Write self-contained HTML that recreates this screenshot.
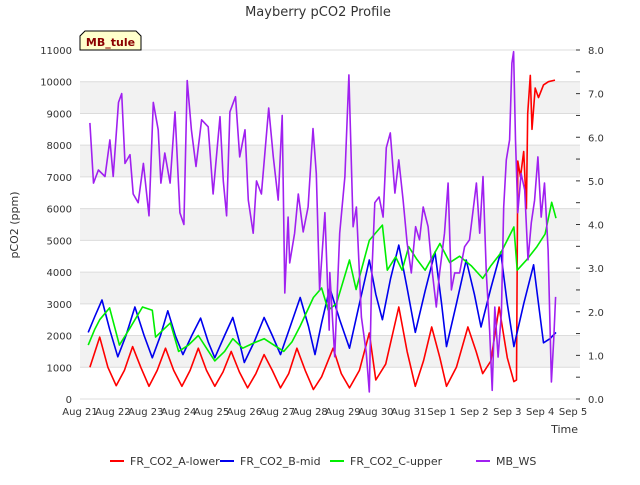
<!DOCTYPE html>
<html><head><meta charset="utf-8"><style>
body{margin:0;background:#fff;}
svg text{font-family:"DejaVu Sans","Liberation Sans",sans-serif;}
</style></head><body>
<svg id="chart" width="640" height="480" xmlns="http://www.w3.org/2000/svg">
<g id="bands"></g><g id="grid"></g><g id="axes"></g><g id="series"></g>
<text x="318" y="16" text-anchor="middle" font-size="13" fill="#333">Mayberry pCO2 Profile</text>
<text transform="translate(18,225) rotate(-90)" text-anchor="middle" font-size="11" fill="#333">pCO2 (ppm)</text>
<text x="578" y="433" text-anchor="end" font-size="11" fill="#333">Time</text>
<g>
<path d="M80,50 L80,36 L85,31 L136,31 L141,36 L141,50 Z" fill="#ffffcc" stroke="#000" stroke-width="1"/>
<text x="110.5" y="46" text-anchor="middle" font-size="11" font-weight="bold" fill="#8b0000">MB_tule</text>
</g>
<g id="legend"></g>
</svg>
<script>
const xTickLabels=["Aug 21","Aug 22","Aug 23","Aug 24","Aug 25","Aug 26","Aug 27","Aug 28","Aug 29","Aug 30","Aug 31","Sep 1","Sep 2","Sep 3","Sep 4","Sep 5"];
const yTickLabels=[0,1000,2000,3000,4000,5000,6000,7000,8000,9000,10000,11000];
const y2TickLabels=["0.0","1.0","2.0","3.0","4.0","5.0","6.0","7.0","8.0"];
const seriesNames=["FR_CO2_A-lower","FR_CO2_B-mid","FR_CO2_C-upper","MB_WS"];
const redT=[0.3,0.6,0.85,1.1,1.35,1.6,1.85,2.1,2.35,2.6,2.85,3.1,3.35,3.6,3.85,4.1,4.35,4.6,4.85,5.1,5.35,5.6,5.85,6.1,6.35,6.6,6.85,7.1,7.35,7.7,7.95,8.2,8.5,8.8,9.0,9.3,9.7,9.95,10.2,10.45,10.7,10.95,11.15,11.45,11.8,12.05,12.25,12.5,12.75,13.0,13.2,13.28,13.32,13.4,13.5,13.58,13.62,13.7,13.75,13.85,13.95,14.1,14.25,14.45];
const redV=[1000,1950,1000,420,900,1650,1000,400,900,1600,900,400,900,1600,900,400,850,1500,850,350,800,1400,900,350,800,1600,900,300,700,1600,800,350,900,2080,600,1100,2900,1500,400,1200,2270,1300,400,1000,2270,1500,800,1200,2900,1300,550,600,7500,7000,7800,6000,9000,10200,8500,9800,9500,9900,10000,10050];
const blueT=[0.25,0.45,0.67,0.9,1.15,1.4,1.67,1.95,2.2,2.45,2.67,2.9,3.13,3.4,3.67,3.9,4.1,4.4,4.65,4.85,5.0,5.3,5.6,5.85,6.1,6.4,6.7,6.95,7.15,7.35,7.6,7.9,8.2,8.5,8.8,9.0,9.2,9.45,9.7,9.95,10.2,10.5,10.8,11.0,11.15,11.45,11.75,12.0,12.2,12.5,12.8,13.0,13.2,13.5,13.8,13.95,14.1,14.3,14.48];
const blueV=[2100,2600,3120,2200,1330,2000,2900,2000,1300,2000,2780,2000,1400,2000,2550,1800,1300,2000,2570,1800,1150,1800,2570,2000,1400,2300,3200,2300,1400,2400,3500,2500,1600,3000,4380,3300,2500,3800,4850,3500,2100,3400,4630,3000,1650,3000,4380,3300,2270,3500,4630,3000,1650,3000,4230,3000,1770,1900,2100];
const greenT=[0.25,0.45,0.6,0.9,1.2,1.5,1.9,2.2,2.3,2.55,2.75,3.0,3.3,3.6,3.85,4.1,4.4,4.65,4.95,5.25,5.6,5.9,6.2,6.45,6.7,7.1,7.35,7.55,7.8,8.2,8.4,8.8,9.2,9.35,9.6,9.8,10.0,10.25,10.5,10.95,11.25,11.55,11.9,12.25,12.5,12.8,13.2,13.3,13.6,13.9,14.15,14.35,14.48];
const greenV=[1700,2200,2500,2870,1700,2200,2900,2800,1950,2200,2400,1500,1700,2000,1600,1200,1500,1900,1600,1750,1900,1700,1500,1800,2300,3200,3500,2800,3000,4380,3450,5000,5480,4060,4480,4060,4800,4400,4060,4900,4300,4500,4200,3800,4200,4600,5420,4060,4400,4800,5200,6200,5700];
const purpleT=[0.30,0.41,0.56,0.76,0.91,1.01,1.17,1.27,1.37,1.52,1.62,1.77,1.93,2.10,2.23,2.38,2.46,2.58,2.74,2.89,3.04,3.16,3.26,3.39,3.53,3.70,3.90,4.05,4.26,4.36,4.46,4.56,4.73,4.86,5.02,5.12,5.27,5.37,5.52,5.74,5.88,6.03,6.15,6.23,6.33,6.38,6.53,6.64,6.79,6.94,7.09,7.19,7.29,7.45,7.58,7.60,7.75,7.90,8.06,8.18,8.31,8.41,8.56,8.71,8.80,8.87,8.97,9.10,9.22,9.32,9.44,9.58,9.70,9.83,9.95,10.08,10.21,10.33,10.44,10.59,10.72,10.84,10.94,11.09,11.20,11.30,11.40,11.55,11.70,11.85,12.06,12.16,12.26,12.36,12.46,12.54,12.62,12.72,12.82,12.89,12.97,13.07,13.14,13.19,13.25,13.32,13.42,13.53,13.63,13.73,13.83,13.93,14.03,14.13,14.24,14.34,14.41,14.47];
const purpleV=[6.33,4.95,5.25,5.1,5.94,5.1,6.8,7.0,5.4,5.6,4.7,4.5,5.4,4.2,6.8,6.17,4.95,5.64,4.95,6.58,4.27,4.0,7.3,6.17,5.33,6.4,6.24,4.7,6.47,5.0,4.2,6.58,6.93,5.55,6.17,4.56,3.8,5.0,4.7,6.67,5.55,4.56,6.5,2.43,4.17,3.12,3.8,4.7,3.83,4.4,6.2,5.17,2.5,4.27,1.58,2.9,0.97,3.8,5.1,7.43,3.95,4.4,1.88,1.05,0.16,2.73,4.5,4.63,4.17,5.76,6.1,4.72,5.48,4.56,3.58,2.89,3.95,3.65,4.4,3.95,2.89,2.11,2.89,3.8,4.95,2.5,2.89,2.89,3.49,3.65,4.95,3.8,5.1,2.89,1.58,0.2,2.11,0.96,1.97,4.4,5.48,5.94,7.7,7.96,5.94,4.27,5.17,4.79,3.19,4.04,4.56,5.55,4.17,4.95,3.42,0.39,1.35,2.34];

const X0=80,DAY=32.87,PL=80,PR=580,YB=399,YT=50;
const xs=t=>X0+t*DAY;
const ys=v=>YB-(v/11000)*(YB-YT);
const ys2=v=>YB-(v/8)*(YB-YT);
const NS="http://www.w3.org/2000/svg";
function mk(tag,parent,attrs){const e=document.createElementNS(NS,tag);for(const k in attrs)e.setAttribute(k,attrs[k]);document.getElementById(parent).appendChild(e);return e;}
for(let i=1;i<yTickLabels.length-1;i+=2){
  const b=mk('rect','bands',{x:PL,y:ys(yTickLabels[i+1]),width:PR-PL,height:ys(yTickLabels[i])-ys(yTickLabels[i+1]),fill:'#f2f2f2'});
  
  
}
yTickLabels.forEach(v=>{
  const l=mk('line','grid',{x1:PL,x2:PR,y1:ys(v),y2:ys(v),stroke:'#dcdcdc','stroke-width':1});
  
  
  const t=mk('text','axes',{x:72,y:ys(v)+4,'text-anchor':'end','font-size':10,fill:'#333'});
  t.textContent=v;
  
  
});
y2TickLabels.forEach((s,i)=>{
  const t=mk('text','axes',{x:588,y:ys2(i)+4,'font-size':10,fill:'#333'});
  t.textContent=s;
  
  
});
for(let i=0;i<=16;i++){
  const m=mk('line','axes',{x1:PR-4,x2:PR,y1:ys2(i*0.5),y2:ys2(i*0.5),stroke:'#333','stroke-width':1});
  
  
}
xTickLabels.forEach((s,i)=>{
  const t=mk('text','axes',{x:xs(i),y:415,'text-anchor':'middle','font-size':10,fill:'#333'});
  t.textContent=s;
  
  
});
function line(T,V,f,col,name){
  const d=T.map((t,i)=>(i?'L':'M')+xs(t).toFixed(1)+','+f(V[i]).toFixed(1)).join('');
  const p=mk('path','series',{d:d,fill:'none',stroke:col,'stroke-width':1.6,'stroke-linejoin':'round'});
  
  
}
line(redT,redV,ys,'#ff0000','series-a-lower');
line(blueT,blueV,ys,'#0000ee','series-b-mid');
line(greenT,greenV,ys,'#00ee00','series-c-upper');
line(purpleT,purpleV,ys2,'#a020f0','series-mb-ws');
const legCols=['#ff0000','#0000ee','#00ee00','#a020f0'];
const legX=[110,220,330,476];
seriesNames.forEach((n,i)=>{
  const l=mk('line','legend',{x1:legX[i],x2:legX[i]+14,y1:461,y2:461,stroke:legCols[i],'stroke-width':2});
  
  
  const t=mk('text','legend',{x:legX[i]+20,y:465,'font-size':11,fill:'#333'});
  t.textContent=n;
  
  
});
</script>
</body></html>
